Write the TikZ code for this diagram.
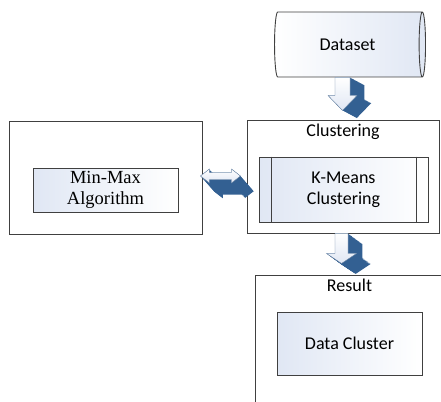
\documentclass[tikz,border=0pt]{standalone}
\usepackage{fontspec}
\newfontfamily\calibri{Carlito}
\newfontfamily\timesf{Liberation Serif}
\usetikzlibrary{shapes.geometric,positioning}

\definecolor{framegray}{RGB}{64,64,64}
\definecolor{tintblue}{RGB}{224,231,244}
\definecolor{arrblue}{RGB}{58,106,158}
\definecolor{arrdark}{RGB}{34,72,118}

\begin{document}
\begin{tikzpicture}[
  x=1pt,y=-1pt,
  frame/.style={draw=framegray, line width=0.9pt, fill=white},
  inbox/.style={draw=framegray, line width=0.9pt, left color=tintblue, right color=white, align=center, font=\calibri\fontsize{18}{21}\selectfont},
  boxlabel/.style={font=\calibri\fontsize{18}{21}\selectfont, inner sep=1pt},
  face/.style={draw=arrdark!70, line width=0.4pt, top color=white, bottom color=tintblue}
]
\clip (0,0) rectangle (441,401);

% stores and boxes
\node[cylinder, draw=framegray, line width=0.9pt, aspect=0.35, minimum width=65pt, minimum height=151pt,
      left color=white, right color=tintblue, font=\calibri\fontsize{18}{21}\selectfont] (ds) at (347.5,44.5) {Dataset};

\node[frame, minimum width=192pt, minimum height=113pt] (clus) at (343,176.5) {};
\node[boxlabel, below=3pt of clus.north] (clustxt) {Clustering};
\node[inbox, minimum width=169pt, minimum height=65pt] (km) at (343.5,189.5) {K-Means\\Clustering};
\draw[framegray, line width=0.9pt] ([xshift=13pt]km.north west) -- ([xshift=13pt]km.south west);
\draw[framegray, line width=0.9pt] ([xshift=-12pt]km.north east) -- ([xshift=-12pt]km.south east);

\node[frame, minimum width=193pt, minimum height=113pt] (mm) at (105.5,177.5) {};
\node[inbox, minimum width=145pt, minimum height=44pt, font=\timesf\fontsize{18.5}{21}\selectfont] (alg) at (105.5,190) {Min-Max\\Algorithm};

\node[frame, minimum width=189pt, minimum height=136pt] (res) at (349.5,343) {};
\node[boxlabel, below=3pt of res.north] (restxt) {Result};
\node[inbox, minimum width=145pt, minimum height=63pt] (dc) at (349.5,343.5) {Data Cluster};

% dataset -> clustering
\begin{scope}[shift={([xshift=-5pt]ds.south)}]
  \foreach \t in {0,0.05,...,1}
    \fill[arrblue!70!arrdark, shift={(15*\t,8*\t)}] (-7.5,0) -- (7.5,0) -- (7.5,18) -- (14.5,18) -- (0,33) -- (-14.5,18) -- (-7.5,18) -- cycle;
  \draw[face] (-7.5,0) -- (7.5,0) -- (7.5,18) -- (14.5,18) -- (0,33) -- (-14.5,18) -- (-7.5,18) -- cycle;
\end{scope}

% min-max <-> clustering
\begin{scope}[shift={([xshift=-2pt,yshift=1.5pt]mm.east)}]
  \foreach \t in {0,0.05,...,1}
    \fill[arrblue!70!arrdark, shift={(14*\t,16*\t)}] (0,0) -- (9,-7) -- (9,-3.5) -- (31,-3.5) -- (31,-7) -- (40,0) -- (31,7) -- (31,3.5) -- (9,3.5) -- (9,7) -- cycle;
  \draw[face] (0,0) -- (9,-7) -- (9,-3.5) -- (31,-3.5) -- (31,-7) -- (40,0) -- (31,7) -- (31,3.5) -- (9,3.5) -- (9,7) -- cycle;
\end{scope}

% clustering -> result
\begin{scope}[shift={([xshift=-1.5pt]clus.south)}]
  \foreach \t in {0,0.05,...,1}
    \fill[arrblue!70!arrdark, shift={(15*\t,11*\t)}] (-6.5,0) -- (6.5,0) -- (6.5,20) -- (15,20) -- (0,30) -- (-15,20) -- (-6.5,20) -- cycle;
  \draw[face] (-6.5,0) -- (6.5,0) -- (6.5,20) -- (15,20) -- (0,30) -- (-15,20) -- (-6.5,20) -- cycle;
\end{scope}
\end{tikzpicture}
\end{document}
